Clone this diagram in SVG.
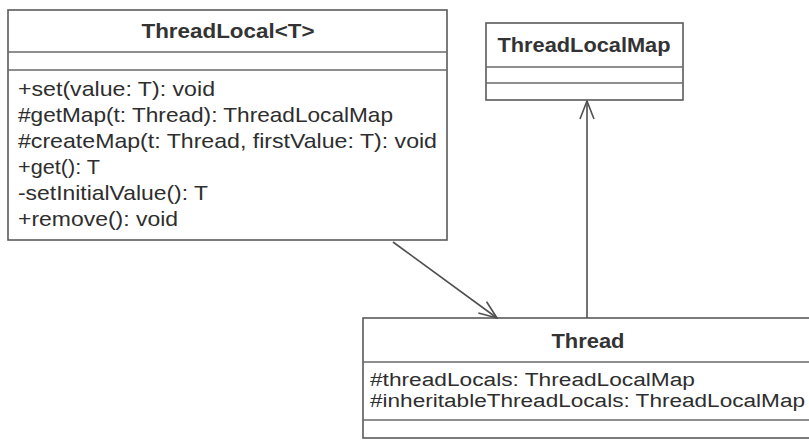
<svg xmlns="http://www.w3.org/2000/svg" width="809" height="446" viewBox="0 0 809 446">
<style>
.box{fill:#fff;stroke:#5a5a5a;stroke-width:1.6}
.sep{stroke:#6a6a6a;stroke-width:1.6}
.t{font-family:"Liberation Sans",Arial,sans-serif;font-size:21px;fill:#2e2e2e}
.s{font-family:"Liberation Sans",Arial,sans-serif;font-size:18px;fill:#2e2e2e}
.b{font-family:"Liberation Sans",Arial,sans-serif;font-size:21px;font-weight:bold;fill:#333;text-anchor:middle}
.edge{fill:none;stroke:#505050;stroke-width:1.6}
</style>
<defs>
<marker id="open" viewBox="0 0 20 16" refX="19" refY="8" markerWidth="20" markerHeight="16" markerUnits="userSpaceOnUse" orient="auto">
<path d="M1,1 L19,8 L1,15" fill="none" stroke="#505050" stroke-width="1.6"/>
</marker>
</defs>
<rect width="809" height="446" fill="#fff"/>
<g id="ThreadLocal">
<rect class="box" x="8" y="10" width="439" height="230"/>
<line class="sep" x1="8" y1="52" x2="447" y2="52"/>
<line class="sep" x1="8" y1="70" x2="447" y2="70"/>
<text class="b" x="228" y="38" textLength="173" lengthAdjust="spacingAndGlyphs">ThreadLocal&lt;T&gt;</text>
<text class="t" x="18" y="96" textLength="197" lengthAdjust="spacingAndGlyphs">+set(value: T): void</text>
<text class="t" x="18" y="122" textLength="375" lengthAdjust="spacingAndGlyphs">#getMap(t: Thread): ThreadLocalMap</text>
<text class="t" x="18" y="148" textLength="419" lengthAdjust="spacingAndGlyphs">#createMap(t: Thread, firstValue: T): void</text>
<text class="t" x="18" y="174" textLength="82" lengthAdjust="spacingAndGlyphs">+get(): T</text>
<text class="t" x="18" y="200" textLength="190" lengthAdjust="spacingAndGlyphs">-setInitialValue(): T</text>
<text class="t" x="18" y="226" textLength="160" lengthAdjust="spacingAndGlyphs">+remove(): void</text>
</g>
<g id="ThreadLocalMap">
<rect class="box" x="486" y="23" width="197" height="77"/>
<line class="sep" x1="486" y1="67" x2="683" y2="67"/>
<line class="sep" x1="486" y1="83" x2="683" y2="83"/>
<text class="b" x="584" y="52" textLength="173" lengthAdjust="spacingAndGlyphs">ThreadLocalMap</text>
</g>
<g id="Thread">
<rect class="box" x="363" y="318" width="452" height="120"/>
<line class="sep" x1="363" y1="362" x2="815" y2="362"/>
<line class="sep" x1="363" y1="420" x2="815" y2="420"/>
<text class="b" x="588" y="348" textLength="73" lengthAdjust="spacingAndGlyphs">Thread</text>
<text class="s" x="370" y="386" textLength="325" lengthAdjust="spacingAndGlyphs">#threadLocals: ThreadLocalMap</text>
<text class="s" x="370" y="407" textLength="435" lengthAdjust="spacingAndGlyphs">#inheritableThreadLocals: ThreadLocalMap</text>
</g>
<g id="connectors">
<line class="edge" x1="393" y1="242" x2="497" y2="318" marker-end="url(#open)"/>
<line class="edge" x1="587" y1="318" x2="587" y2="101" marker-end="url(#open)"/>
</g>
</svg>
